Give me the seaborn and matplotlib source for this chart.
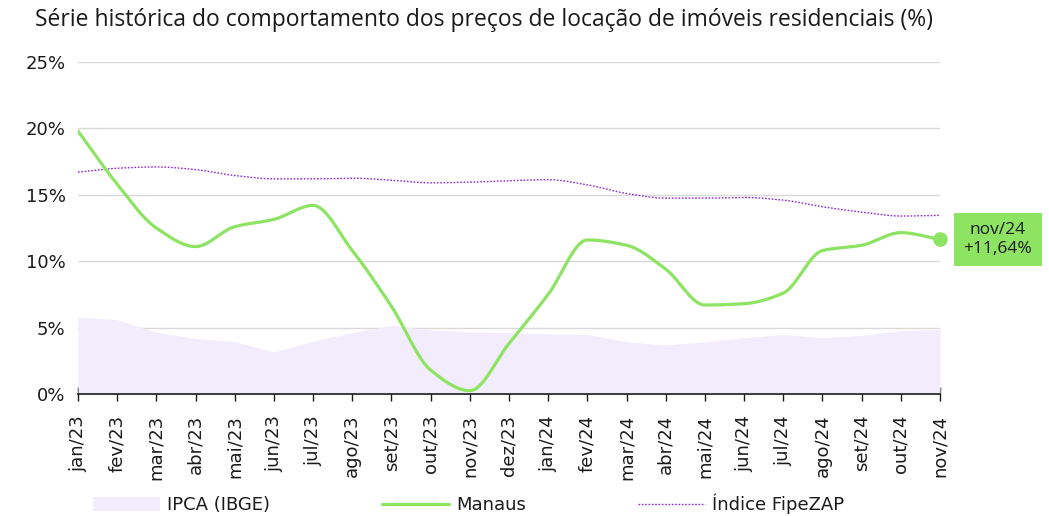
import numpy as np
import pandas as pd
import matplotlib
matplotlib.use("Agg")
import matplotlib.pyplot as plt
from matplotlib.patches import Patch
from matplotlib.lines import Line2D
import seaborn as sns

months = ["jan/23", "fev/23", "mar/23", "abr/23", "mai/23", "jun/23", "jul/23",
          "ago/23", "set/23", "out/23", "nov/23", "dez/23", "jan/24", "fev/24",
          "mar/24", "abr/24", "mai/24", "jun/24", "jul/24", "ago/24", "set/24",
          "out/24", "nov/24"]
ipca = [5.77, 5.60, 4.65, 4.18, 3.94, 3.16, 3.99, 4.61, 5.19, 4.82, 4.68, 4.62,
        4.51, 4.50, 3.93, 3.69, 3.93, 4.23, 4.50, 4.24, 4.42, 4.76, 4.87]
manaus = [19.8, 15.8, 12.5, 11.1, 12.6, 13.15, 14.2, 10.8, 6.6, 1.8, 0.25, 3.8,
          7.5, 11.6, 11.2, 9.4, 6.7, 6.8, 7.6, 10.8, 11.2, 12.15, 11.64]
fipezap = [16.7, 17.0, 17.1, 16.9, 16.45, 16.2, 16.2, 16.25, 16.1, 15.9, 15.95,
           16.06, 16.14, 15.75, 15.1, 14.75, 14.75, 14.8, 14.6, 14.1, 13.7, 13.4, 13.45]
yticks = [0, 5, 10, 15, 20, 25]

GREEN = "#8de362"
PURPLE = "#8a2be2"
FILL = "#f2ecfc"
INK = "#1a1a1a"


def monotone_curve(x, y, n=30):
    """Monotone cubic (Fritsch-Carlson) curve through the points."""
    x = np.asarray(x, float)
    y = np.asarray(y, float)
    h = np.diff(x)
    d = np.diff(y) / h
    m = np.zeros_like(y)
    m[0], m[-1] = d[0], d[-1]
    for i in range(1, len(y) - 1):
        if d[i - 1] * d[i] <= 0:
            m[i] = 0.0
        else:
            w1 = 2 * h[i] + h[i - 1]
            w2 = h[i] + 2 * h[i - 1]
            m[i] = (w1 + w2) / (w1 / d[i - 1] + w2 / d[i])
    xs, ys = [], []
    for i in range(len(x) - 1):
        t = np.linspace(0, 1, n, endpoint=False)
        h00 = 2 * t**3 - 3 * t**2 + 1
        h10 = t**3 - 2 * t**2 + t
        h01 = -2 * t**3 + 3 * t**2
        h11 = t**3 - t**2
        xs.append(x[i] + t * h[i])
        ys.append(h00 * y[i] + h10 * h[i] * m[i] + h01 * y[i + 1] + h11 * h[i] * m[i + 1])
    xs.append([x[-1]])
    ys.append([y[-1]])
    return np.concatenate(xs), np.concatenate(ys)


sns.set_theme(style="white")
plt.rcParams["font.family"] = ["DejaVu Sans"]

fig = plt.figure(figsize=(10.49, 5.16), dpi=100)
ax = fig.add_axes([78 / 1049, 1 - 394 / 516, (940 - 78) / 1049, (394 - 62) / 516])

pos = np.arange(len(months))

ax.fill_between(pos, 0, ipca, color=FILL, linewidth=0, zorder=1)

mx, my = monotone_curve(pos, manaus)
fx, fy = monotone_curve(pos, fipezap)
manaus_curve = pd.DataFrame({"x": mx, "y": my})
fipezap_curve = pd.DataFrame({"x": fx, "y": fy})
sns.lineplot(data=manaus_curve, x="x", y="y", ax=ax, color=GREEN, linewidth=2.3,
             sort=False, legend=False, zorder=4)
sns.lineplot(data=fipezap_curve, x="x", y="y", ax=ax, color=PURPLE, linewidth=1.0,
             linestyle=(0, (1.2, 1.2)), sort=False, legend=False, zorder=3)

ax.scatter([pos[-1]], [manaus[-1]], s=110, color=GREEN, zorder=5, linewidths=0,
           clip_on=False)
ax.annotate(f"{months[-1]}\n+{manaus[-1]:.2f}%".replace(".", ","),
            xy=(pos[-1], manaus[-1]), xytext=(41.5, 0), textcoords="offset points",
            ha="center", va="center", fontsize=12.5, family="Open Sans", color=INK,
            linespacing=1.2,
            bbox=dict(boxstyle="square,pad=0.55", fc=GREEN, ec="none"),
            annotation_clip=False)

ax.set_xlim(0, len(months) - 1)
ax.set_ylim(0, 25)
ax.set_yticks(yticks)
ax.set_yticklabels([f"{v}%" for v in yticks], fontsize=13, color=INK)
ax.set_xticks(pos)
ax.set_xticklabels(months, rotation=90, fontsize=13, color=INK)
ax.tick_params(axis="x", bottom=True, direction="inout", length=10, width=1,
               color=INK, pad=10)
ax.tick_params(axis="y", length=0, pad=9)
ax.grid(axis="y", color="#d9d9d9", linewidth=1)
ax.set_axisbelow(True)
for side in ("left", "right", "top"):
    ax.spines[side].set_visible(False)
ax.spines["bottom"].set_color(INK)
ax.spines["bottom"].set_linewidth(1.2)
ax.spines["bottom"].set_zorder(6)
ax.set_xlabel("")
ax.set_ylabel("")

fig.text(35 / 1049, 1 - 20 / 516,
         "Série histórica do comportamento dos preços de locação de imóveis residenciais (%)",
         fontsize=16.5, family="Open Sans", color=INK, ha="left", va="center")

handles = [
    Patch(facecolor=FILL, edgecolor="none", label="IPCA (IBGE)"),
    Line2D([], [], color=GREEN, linewidth=2.3, label="Manaus"),
    Line2D([], [], color=PURPLE, linewidth=1.0, linestyle=(0, (1.2, 1.2)), label="Índice FipeZAP"),
]
fig.legend(handles=handles, loc="center left", bbox_to_anchor=(93 / 1049, 1 - 504 / 516),
           ncol=3, frameon=False, fontsize=13, handlelength=3.7, handleheight=0.8,
           columnspacing=6.2, handletextpad=0.4, borderpad=0, borderaxespad=0,
           labelcolor=INK)

fig.savefig("out.png", dpi=100)
